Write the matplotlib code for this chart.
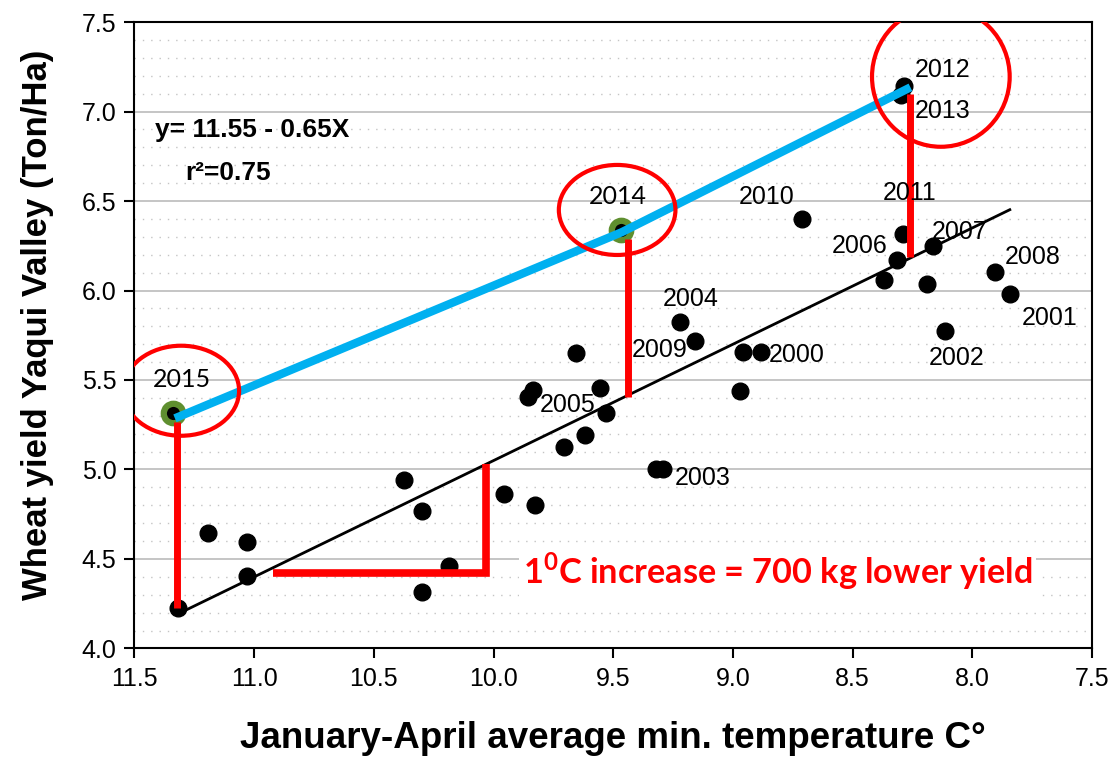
import matplotlib
matplotlib.use('Agg')
import matplotlib.pyplot as plt
from matplotlib.patches import Ellipse
from matplotlib.ticker import MultipleLocator, FormatStrFormatter

plt.rcParams['font.family'] = ['Liberation Sans', 'DejaVu Sans']
plt.rcParams['mathtext.fontset'] = 'custom'
plt.rcParams['mathtext.bf'] = 'Lato:bold'

# Jan-Apr mean minimum temperature (C) and wheat yield (ton/ha), one per season
temp = [11.317, 11.192, 11.032, 11.032, 10.375, 10.301, 10.301, 10.186,
        9.956, 9.825, 9.835, 9.856, 9.705, 9.657, 9.619, 9.556, 9.531,
        9.320, 9.292, 9.222, 9.160, 8.972, 8.958, 8.885, 8.710, 8.292,
        8.317, 8.371, 8.165, 8.190, 7.907, 7.844, 8.116, 8.287, 8.300]
yld = [4.228, 4.644, 4.595, 4.405, 4.941, 4.770, 4.317, 4.461,
       4.861, 4.800, 5.444, 5.407, 5.127, 5.649, 5.193, 5.454, 5.314,
       5.001, 5.001, 5.826, 5.720, 5.440, 5.658, 5.658, 6.399, 6.316,
       6.170, 6.059, 6.249, 6.035, 6.102, 5.980, 5.775, 7.140, 7.095]

# 2015 and 2014 get a green ring
recent_temp = [11.338, 9.466]
recent_yld = [5.314, 6.338]

# year labels
years = ['2000', '2001', '2002', '2003', '2004', '2005', '2006', '2007',
         '2008', '2009', '2010', '2011', '2012', '2013']
year_x = [8.734, 7.677, 8.067, 9.128, 9.178, 9.689, 8.471, 8.053,
          7.747, 9.306, 8.861, 8.262, 8.124, 8.124]
year_y = [5.640, 5.845, 5.621, 4.951, 5.953, 5.360, 6.249, 6.329,
          6.185, 5.668, 6.524, 6.546, 7.232, 7.003]
recent_years = ['2015', '2014']
recent_lab_x = [11.303, 9.480]
recent_lab_y = [5.500, 6.524]

# fitted line y = 11.55 - 0.65x
fit_a, fit_b = 11.55, -0.65
fit_x = [11.32, 7.844]

# blue path 2015 -> 2014 -> 2012
path_x = [11.331, 9.466, 8.259]
path_y = [5.286, 6.325, 7.135]

# red drops from the highlighted years down to the fitted line
drop_x = [11.324, 9.440, 8.259]
drop_top = [5.267, 6.290, 7.100]
drop_bot = [4.225, 5.407, 6.185]

# one-degree step under the fitted line
step_x = [10.92, 10.03, 10.03]
step_y = [4.424, 4.424, 5.030]

# red rings around the highlighted years (centre x, centre y, width, height)
rings = [(11.305, 5.440, 0.484, 0.503),
         (9.484, 6.450, 0.487, 0.503),
         (8.132, 7.194, 0.575, 0.782)]

fig = plt.figure(figsize=(11.14, 7.59), dpi=100)
ax = fig.add_axes([0.1207, 0.1456, 0.8597, 0.8254])

ax.set_xlim(11.5, 7.5)
ax.set_ylim(4.0, 7.5)
ax.xaxis.set_major_locator(MultipleLocator(0.5))
ax.yaxis.set_major_locator(MultipleLocator(0.5))
ax.yaxis.set_minor_locator(MultipleLocator(0.1))
ax.xaxis.set_major_formatter(FormatStrFormatter('%.1f'))
ax.yaxis.set_major_formatter(FormatStrFormatter('%.1f'))
ax.set_axisbelow(True)
ax.grid(axis='y', which='major', color='#c0c0c0', lw=1.3)
ax.grid(axis='y', which='minor', color='#c4c4c4', lw=1.0, linestyle=(0, (1, 5)))
ax.tick_params(which='minor', length=0)
ax.tick_params(which='major', direction='out', length=7, width=1.5,
               labelsize=18, pad=6)
for s in ax.spines.values():
    s.set_color('black')
    s.set_linewidth(1.5)

ax.plot(temp, yld, 'o', color='black', ms=12, zorder=3)
ax.plot(recent_temp, recent_yld, 'o', color='black', ms=14,
        mec='#5f8f2f', mew=4.5, zorder=3)

fx = fit_x
ax.plot(fx, [fit_a + fit_b * v for v in fx], color='black', lw=2, zorder=4)

ax.plot(path_x, path_y, color='#00b0f0', lw=6, solid_capstyle='butt', zorder=5)
for x, t, b in zip(drop_x, drop_top, drop_bot):
    ax.plot([x, x], [b, t], color='red', lw=5, solid_capstyle='butt', zorder=6)
ax.plot(step_x, step_y, color='red', lw=5.5, solid_capstyle='butt',
        solid_joinstyle='miter', zorder=6)

for cx, cy, w, h in rings:
    ax.add_patch(Ellipse((cx, cy), w, h, fill=False, ec='red', lw=3, zorder=7))

for t, x, y in zip(years, year_x, year_y):
    ax.text(x, y, t, ha='center', va='center', fontsize=18, zorder=8)
for t, x, y in zip(recent_years, recent_lab_x, recent_lab_y):
    ax.text(x, y, t, ha='center', va='center', fontsize=18,
            family=['Lato', 'DejaVu Sans'], zorder=8)

ax.text(11.414, 6.897, 'y= 11.55 - 0.65X', ha='left', va='center',
        fontsize=19, fontweight='bold')
ax.text(11.289, 6.656, 'r\u00b2=0.75', ha='left', va='center',
        fontsize=19, fontweight='bold')

ax.text(9.878, 4.43, r'1$^{\mathbf{0}}$C increase = 700 kg lower yield',
        ha='left', va='center', fontsize=24.7, fontweight='bold', color='red',
        family=['Lato', 'DejaVu Sans'], zorder=8,
        bbox=dict(facecolor='white', edgecolor='none', pad=3))

ax.set_xlabel('January-April average min. temperature C\u00b0',
              fontsize=26.5, fontweight='bold', va='center')
ax.xaxis.set_label_coords(0.5, -0.143)
ax.set_ylabel('Wheat yield Yaqui Valley (Ton/Ha)',
              fontsize=25, fontweight='bold', va='center')
ax.yaxis.set_label_coords(-0.1008, 0.5164)

fig.savefig('out.png', dpi=100)
